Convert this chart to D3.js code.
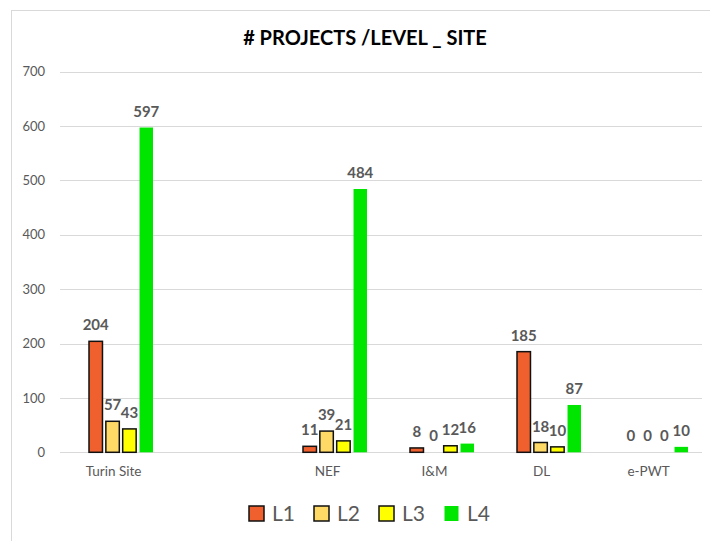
<!DOCTYPE html>
<html>
<head>
<meta charset="utf-8">
<script src="https://cdn.jsdelivr.net/npm/d3@7"></script>
<style>
  html, body { margin: 0; padding: 0; background: #fff; }
  svg { display: block; font-family: Lato, "Open Sans", sans-serif; }
</style>
</head>
<body>
<svg id="chart" width="710" height="541"></svg>
<script>
// Categories (the second slot is an intentionally empty site column)
const categories = ["Turin Site", "", "NEF", "I&M", "DL", "e-PWT"];
const seriesNames = ["L1", "L2", "L3", "L4"];
const L1 = [204, null, 11, 8, 185, 0];
const L2 = [57, null, 39, 0, 18, 0];
const L3 = [43, null, 21, 12, 10, 0];
const L4 = [597, null, 484, 16, 87, 10];
const yTicks = [0, 100, 200, 300, 400, 500, 600, 700];
const colors = ["#F0602E", "#FFD966", "#FFFF00", "#00E600"];
const outlined = [true, true, true, false];

const series = [L1, L2, L3, L4];

const svg = d3.select("#chart");
const W = 710, H = 541;

// Chart frame (left and top edges only)
svg.append("line").attr("x1", 11.5).attr("x2", 11.5).attr("y1", 10).attr("y2", H)
  .attr("stroke", "#D9D9D9").attr("stroke-width", 1);
svg.append("line").attr("x1", 11).attr("x2", W).attr("y1", 10.5).attr("y2", 10.5)
  .attr("stroke", "#D9D9D9").attr("stroke-width", 1);

// Title
svg.append("text")
  .attr("x", 365).attr("y", 45)
  .attr("text-anchor", "middle")
  .attr("font-weight", "bold")
  .attr("font-size", 20)
  .attr("fill", "#000")
  .text("# PROJECTS /LEVEL _ SITE");

// Scales
const x = d3.scaleBand().domain(categories.map((c, i) => i)).range([60, 702]).paddingInner(0).paddingOuter(0);
const xInner = d3.scaleBand().domain(seriesNames).range([29, 93]).paddingInner(0.2).paddingOuter(0);
const y = d3.scaleLinear().domain([0, 700]).range([452.3, 71.5]);

// Gridlines
svg.append("g").selectAll("line").data(yTicks).join("line")
  .attr("x1", 60).attr("x2", 702)
  .attr("y1", d => Math.round(y(d)) + 0.5).attr("y2", d => Math.round(y(d)) + 0.5)
  .attr("stroke", "#D9D9D9").attr("stroke-width", 1);

// Y axis labels
const yAxis = d3.axisLeft(y).tickValues(yTicks).tickSize(0).tickPadding(0);
const gy = svg.append("g").attr("transform", "translate(45,0)").call(yAxis);
gy.select(".domain").remove();
gy.selectAll("text").attr("font-size", 13).attr("fill", "#595959")
  .attr("font-family", "Lato, 'Open Sans', sans-serif");

// X axis labels
const xAxis = d3.axisBottom(x).tickFormat(i => categories[i]).tickSize(0).tickPadding(0);
const gx = svg.append("g").attr("transform", "translate(0,466)").call(xAxis);
gx.select(".domain").remove();
gx.selectAll("text").attr("font-size", 13.5).attr("fill", "#595959")
  .attr("font-family", "Lato, 'Open Sans', sans-serif");

// Bars and value labels
const cells = [];
categories.forEach((c, ci) => {
  series.forEach((s, si) => {
    if (s[ci] !== null) cells.push({ ci, si, v: s[ci] });
  });
});

const barG = svg.append("g");
barG.selectAll("rect").data(cells.filter(d => d.v > 0)).join("rect")
  .attr("x", d => x(d.ci) + xInner(seriesNames[d.si]))
  .attr("width", xInner.bandwidth())
  .attr("y", d => y(d.v))
  .attr("height", d => y(0) - y(d.v))
  .attr("fill", d => colors[d.si])
  .attr("stroke", d => outlined[d.si] ? "#111" : "none")
  .attr("stroke-width", 1.5);

svg.append("g").selectAll("text").data(cells).join("text")
  .attr("x", d => x(d.ci) + xInner(seriesNames[d.si]) + xInner.bandwidth() / 2)
  .attr("y", d => y(d.v) - 11)
  .attr("text-anchor", "middle")
  .attr("font-size", 15)
  .attr("font-weight", "bold")
  .attr("fill", "#595959")
  .text(d => d.v);

// Legend
const legend = svg.append("g").selectAll("g").data(seriesNames).join("g")
  .attr("transform", (d, i) => `translate(${249 + i * 65},506)`);
legend.append("rect")
  .attr("x", (d, i) => outlined[i] ? 0 : 0.5)
  .attr("width", (d, i) => outlined[i] ? 15 : 14)
  .attr("height", 15)
  .attr("fill", (d, i) => colors[i])
  .attr("stroke", (d, i) => outlined[i] ? "#111" : "none")
  .attr("stroke-width", 1.5);
legend.append("text")
  .attr("x", 23).attr("y", 15)
  .attr("font-size", 21)
  .attr("fill", "#595959")
  .text(d => d);
</script>
</body>
</html>
